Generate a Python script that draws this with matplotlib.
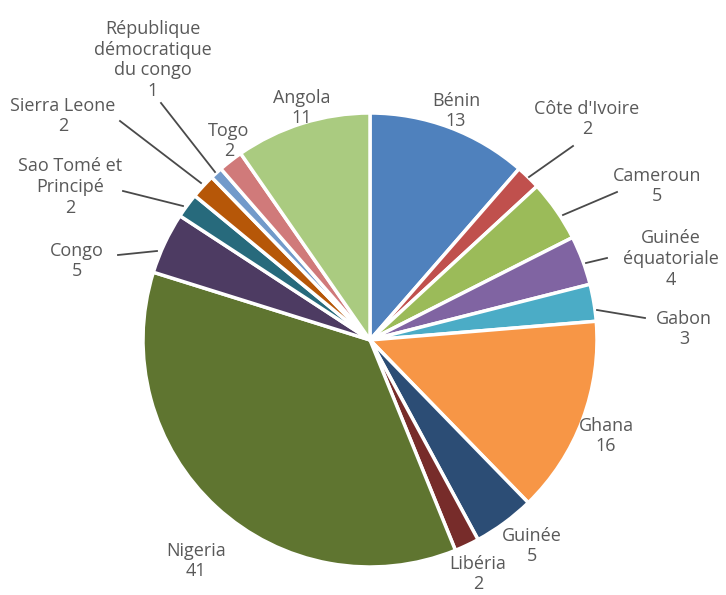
import matplotlib
matplotlib.use("Agg")
import matplotlib.pyplot as plt

# Data
countries = ["Bénin", "Côte d'Ivoire", "Cameroun", "Guinée\néquatoriale", "Gabon",
             "Ghana", "Guinée", "Libéria", "Nigeria", "Congo",
             "Sao Tomé et\nPrincipé", "Sierra Leone", "République\ndémocratique\ndu congo",
             "Togo", "Angola"]
counts = [13, 2, 5, 4, 3, 16, 5, 2, 41, 5, 2, 2, 1, 2, 11]
colors = ["#4F81BD", "#C0504D", "#9BBB59", "#8064A2", "#4BACC6",
          "#F79646", "#2C4D75", "#772C2A", "#5F7530", "#4D3B62",
          "#276A7C", "#B65708", "#729ACA", "#D07A7A", "#AACB80"]

# label placement (pixel coords in the 726x595 picture), leader line start/end
label_px = [(456, 111), (587, 119), (657, 186), (671, 259), (684, 329),
            (606, 436), (532, 546), (478, 574), (196, 561), (77, 261),
            (70, 187), (63, 116), (153, 60), (229, 141), (302, 108)]
leaders = {1: ((529, 177), (573, 146)),
           2: ((563, 215), (617, 192)),
           3: ((586, 263), (607, 258)),
           4: ((597, 310), (645, 318)),
           9: ((157, 251), (118, 255)),
           10: ((183, 206), (123, 191)),
           11: ((201, 183), (120, 121)),
           12: ((215, 172), (161, 103))}

W, H = 726, 595
cx, cy, R = 370, 340, 227


def to_data(p):
    return ((p[0] - cx) / R, (cy - p[1]) / R)


fig = plt.figure(figsize=(W / 100, H / 100), dpi=100)
ax = fig.add_axes([0, 0, 1, 1])

ax.pie(counts, colors=colors, startangle=90, counterclock=False, radius=1.0,
       wedgeprops=dict(edgecolor="white", linewidth=2.5))

for i, name in enumerate(countries):
    x, y = to_data(label_px[i])
    ax.text(x, y, f"{name}\n{counts[i]}", ha="center", va="center",
            fontsize=13, color="#595959", family=["Open Sans", "DejaVu Sans"],
            linespacing=1.2)

for i, (a, b) in leaders.items():
    p1, p2 = to_data(a), to_data(b)
    ax.plot([p1[0], p2[0]], [p1[1], p2[1]], color="#4a4a4a", lw=1.3)

ax.set_xlim(-cx / R, (W - cx) / R)
ax.set_ylim(-(H - cy) / R, cy / R)
ax.set_aspect("equal")
ax.axis("off")

fig.savefig("out.png", dpi=100)
